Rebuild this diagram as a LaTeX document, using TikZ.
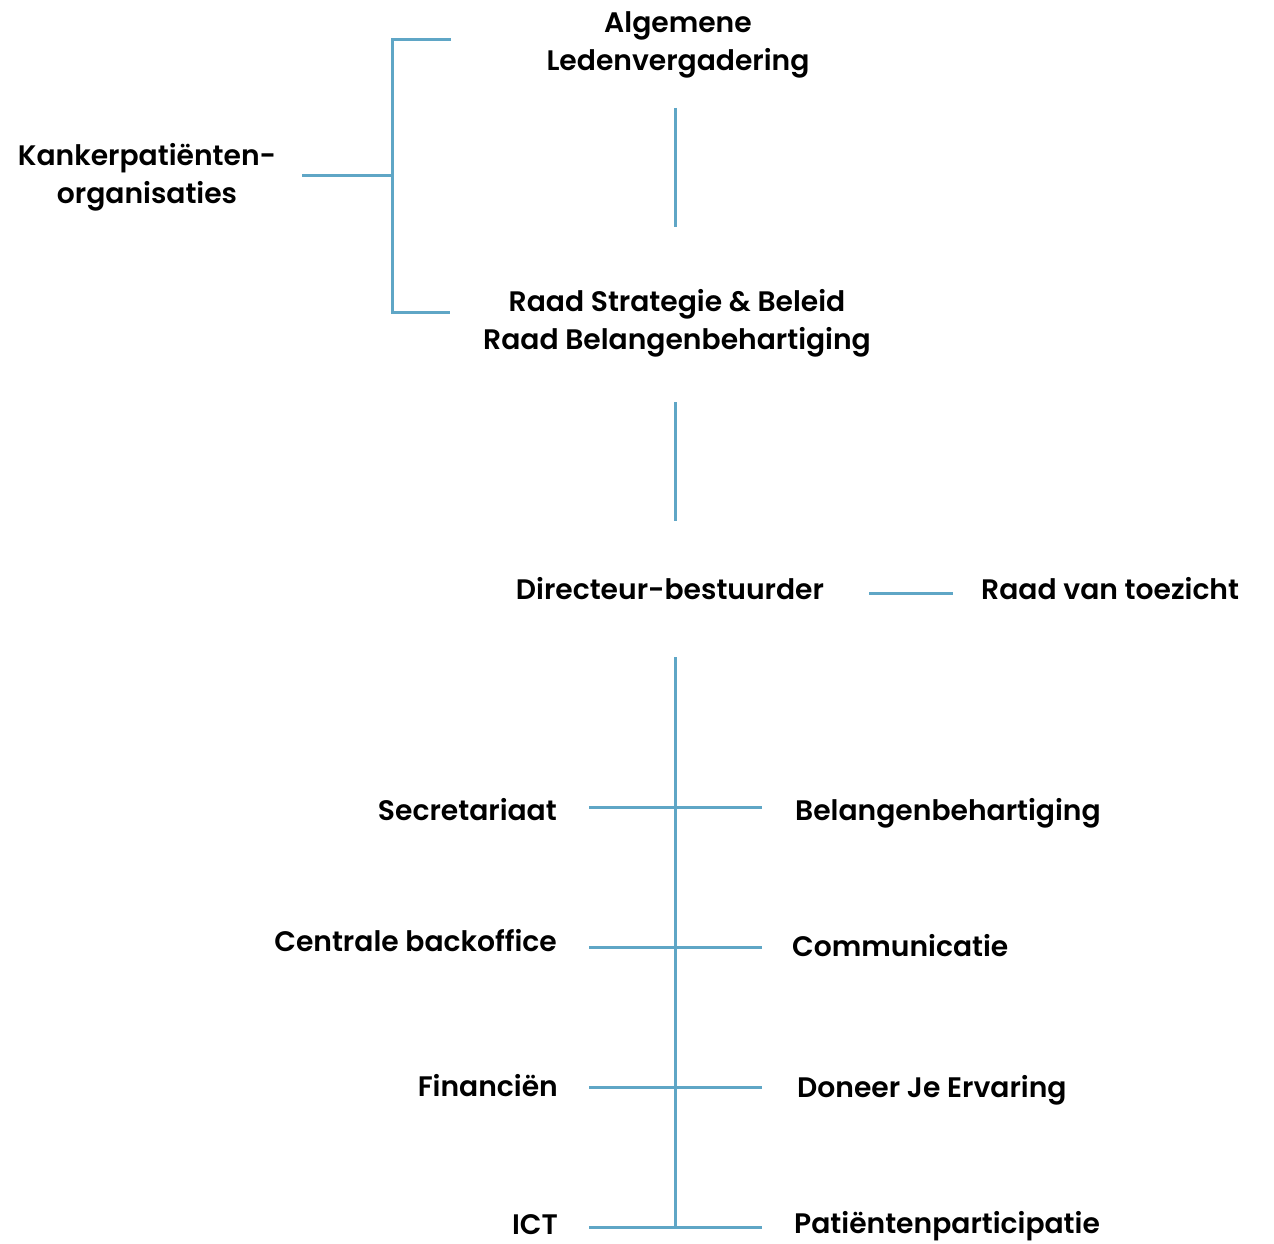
\documentclass[tikz,border=0pt]{standalone}
\usepackage{fontspec}
\setmainfont{Poppins}[UprightFont=* SemiBold, BoldFont=* Bold]
\definecolor{linkblue}{HTML}{5FA6C6}
\begin{document}
\begin{tikzpicture}[x=1pt,y=-1pt,
  lbl/.style={inner sep=0pt, font=\fontsize{28.2}{38}\selectfont, align=center},
  link/.style={draw=linkblue, line width=3pt}]
\useasboundingbox (0,0) rectangle (1274,1244);

% top of the hierarchy
\node[lbl] (alv) at (678,45) {Algemene\\Ledenvergadering};
\node[lbl] (raad) at (677,323) {Raad Strategie \& Beleid\\Raad Belangenbehartiging};
\node[lbl] (kpo) at (147,177) {Kankerpatiënten-\\organisaties};
\node[lbl, anchor=mid] (dir) at (670,597) {Directeur-bestuurder};
\node[lbl, anchor=mid west] (rvt) at (981,597) {Raad van toezicht};

% departments
\node[lbl, anchor=mid east] (sec) at (557,818) {Secretariaat};
\node[lbl, anchor=mid east] (cbo) at (557,949) {Centrale backoffice};
\node[lbl, anchor=mid east] (fin) at (558,1094) {Financiën};
\node[lbl, anchor=mid east] (ict) at (558,1232) {ICT};
\node[lbl, anchor=mid west] (bel) at (795,818) {Belangenbehartiging};
\node[lbl, anchor=mid west] (com) at (792,954) {Communicatie};
\node[lbl, anchor=mid west] (dje) at (797,1095) {Doneer Je Ervaring};
\node[lbl, anchor=mid west] (pat) at (794,1231) {Patiëntenparticipatie};

% connector end points
\coordinate (alvB) at (675,108);
\coordinate (raadT) at (675,227);
\coordinate (raadB) at (675,402);
\coordinate (dirT) at (675,521);
\coordinate (dirB) at (675,657);
\coordinate (busEnd) at (675,1227);
\coordinate (dirR) at (869,593);
\coordinate (rvtL) at (953,593);
\coordinate (kpoR) at (302,175);
\coordinate (brk) at (392,175);
\coordinate (brkT) at (392,40);
\coordinate (brkB) at (392,312);
\coordinate (alvL) at (451,40);
\coordinate (raadL) at (450,312);

\draw[link] (alvB) -- (raadT);
\draw[link] (raadB) -- (dirT);
\draw[link] (dirR) -- (rvtL);
\draw[link] (kpoR) -- (brk);
\draw[link] (alvL) -- (brkT) -- (brkB) -- (raadL);
\draw[link] (dirB) -- (busEnd);

% department branches
\foreach \yy in {807,947,1087,1227}{
  \draw[link] (589,\yy) -- (762,\yy);
}
\end{tikzpicture}
\end{document}
